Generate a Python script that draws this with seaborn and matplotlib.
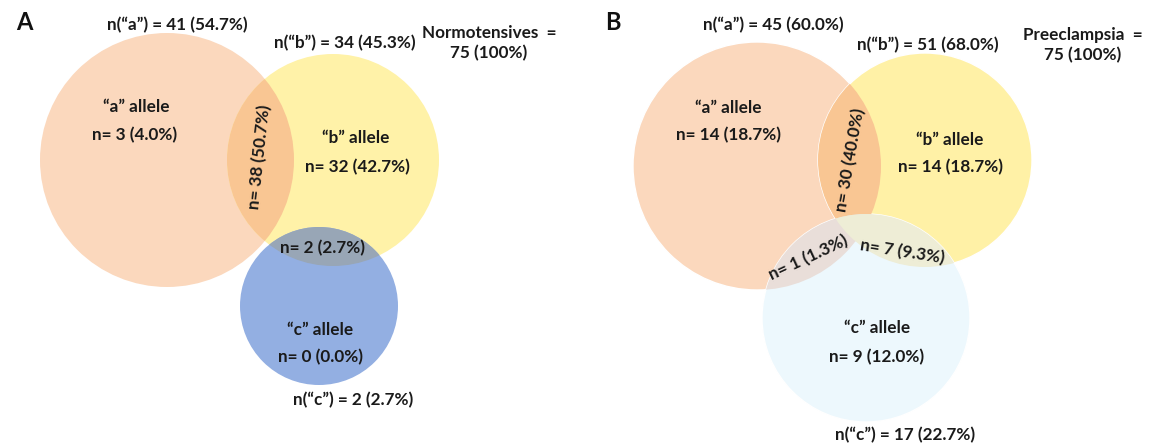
import matplotlib
matplotlib.use("Agg")
import matplotlib.pyplot as plt
from matplotlib.patches import Circle
import seaborn as sns

sns.set_theme(style="white")
plt.rcParams["font.family"] = ["Lato", "DejaVu Sans"]

# ---- data -------------------------------------------------------------
TOTAL = 75
panel_letters = ["A", "B"]
group_names = ["Normotensives", "Preeclampsia"]
allele_names = ["a", "b", "c"]

# totals per allele
totals_A = [41, 34, 2]
totals_B = [45, 51, 17]
# exclusive regions: a only, b only, c only
only_A = [3, 32, 0]
only_B = [14, 14, 9]
# pairwise overlaps: a&b, a&c, b&c  (None = not labelled)
pairs_A = [38, None, 2]
pairs_B = [30, 1, 7]


def fmt(n):
    return f"n= {n} ({n / TOTAL * 100:.1f}%)"


def fmt_total(name, n):
    return f"n(\u201c{name}\u201d) = {n} ({n / TOTAL * 100:.1f}%)"


# ---- layout (pixel space of the figure) ------------------------------
layout = {
    "A": dict(
        circles=[(167, 160, 127), (333, 160, 106), (319, 306, 79)],
        colors=["#FBD8BD", "#FFF2A8", "#93AFE2"],
        pair_colors=["#F9C693", "#95AEDC", "#98A6B6"],
        edge="none",
        letter=(16, 22),
        total_pos=[(177, 25), (345, 43), (353, 400)],
        group_pos=(489, 43),
        name_pos=[(136, 107), (356, 138), (320, 330)],
        only_pos=[(135, 135), (357, 167), (320, 357)],
        pair_pos=[(260, 157, 84), None, (323, 248, 0)],
    ),
    "B": dict(
        circles=[(757, 166, 124), (925, 160, 107), (866, 318, 104)],
        colors=["#FBD8BD", "#FFF1A6", "#EDF8FD"],
        pair_colors=["#F9C693", "#E9DED9", "#EEEDD6"],
        edge="#FFFFFF",
        letter=(605, 22),
        total_pos=[(773, 25), (928, 45), (905, 435)],
        group_pos=(1083, 45),
        name_pos=[(728, 108), (950, 140), (877, 328)],
        only_pos=[(728, 135), (950, 167), (877, 357)],
        pair_pos=[(850, 160, 80), (808, 258, 25), (902, 252, -9)],
    ),
}

data = {
    "A": (totals_A, only_A, pairs_A),
    "B": (totals_B, only_B, pairs_B),
}

W, H = 1162, 447
fig = plt.figure(figsize=(W / 100, H / 100), dpi=100)
ax = fig.add_axes([0, 0, 1, 1])
ax.set_xlim(0, W)
ax.set_ylim(H, 0)
ax.set_aspect("equal")
ax.axis("off")

FS = 12.3
txt = dict(ha="center", va="center", fontweight="bold", color="#1a1a1a", fontsize=FS)

for letter, group in zip(panel_letters, group_names):
    L = layout[letter]
    totals, only, pairs = data[letter]
    circ = L["circles"]

    # base discs
    patches = []
    for (x, y, r), col in zip(circ, L["colors"]):
        p = Circle((x, y), r, facecolor=col, edgecolor=L["edge"], lw=1.0, zorder=1)
        ax.add_patch(p)
        patches.append(p)

    # overlaps: each lens is a disc clipped to the partner disc
    for k, (i, j) in enumerate([(0, 1), (0, 2), (1, 2)]):
        x, y, r = circ[i]
        lens = Circle((x, y), r, facecolor=L["pair_colors"][k], edgecolor="none", zorder=2 + k)
        ax.add_patch(lens)
        lens.set_clip_path(patches[j])

    # panel letter
    ax.text(*L["letter"], letter, ha="left", va="center", fontsize=17,
            fontweight="bold", color="#111111")

    # allele totals
    for name, n, pos in zip(allele_names, totals, L["total_pos"]):
        ax.text(*pos, fmt_total(name, n), zorder=10, **txt)

    # cohort size
    gx, gy = L["group_pos"]
    ax.text(gx, gy, f"{group}  =\n{TOTAL} (100%)", ha="center", va="center",
            fontweight="bold", color="#1a1a1a", fontsize=FS, linespacing=1.3)

    # region labels
    for name, n, p1, p2 in zip(allele_names, only, L["name_pos"], L["only_pos"]):
        ax.text(*p1, f"\u201c{name}\u201d allele", zorder=10, **txt)
        ax.text(*p2, fmt(n), zorder=10, **txt)

    for n, pos in zip(pairs, L["pair_pos"]):
        if n is None or pos is None:
            continue
        x, y, rot = pos
        ax.text(x, y, fmt(n), rotation=rot, rotation_mode="anchor", zorder=10, **txt)

fig.savefig("out.png", dpi=100, facecolor="white")
